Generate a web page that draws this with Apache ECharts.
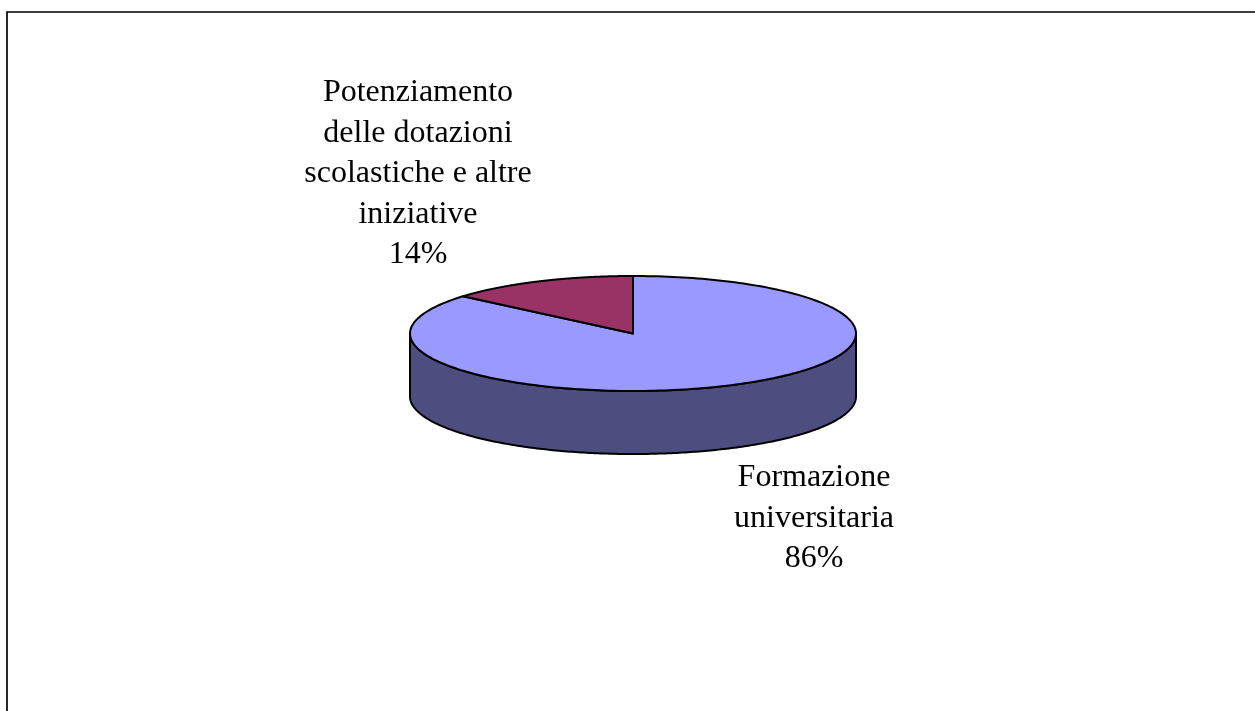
<!DOCTYPE html>
<html><head><meta charset="utf-8">
<style>html,body{margin:0;padding:0;background:#fff;overflow:hidden}#c{width:1255px;height:711px}</style>
<script src="https://cdn.jsdelivr.net/npm/echarts@6/dist/echarts.min.js"></script></head>
<body><div id="c"></div>
<script>
const categories = ["Formazione universitaria", "Potenziamento delle dotazioni scolastiche e altre iniziative"];
const values = [86.2, 13.8];
const labelLines = [["Formazione","universitaria"],["Potenziamento","delle dotazioni","scolastiche e altre","iniziative"]];
const topColors = ["#9999ff", "#993366"];
const sideColors = ["#4d4d80", "#4d1a33"];

const CX=633, CY=333.5, RX=223, RY=57.5, DEPTH=63, LW=2;
const LABEL_POS=[[814,478],[418,93]], LINE_STEP=40.5;
const total = values.reduce((a,b)=>a+b,0);
const font='"Liberation Serif","Times New Roman",serif';
function pt(a){ return [CX+RX*Math.sin(a), CY-RY*Math.cos(a)]; }
function arc(a0,a1,dy){ const p=[]; const n=240; for(let i=0;i<=n;i++){const a=a0+(a1-a0)*i/n; const q=pt(a); p.push([q[0],q[1]+(dy||0)]);} return p; }
function renderItem(params, api){
  const i = params.dataIndex;
  let start=0; for(let k=0;k<i;k++) start+=values[k];
  const v=api.value(1);
  const a0=start/total*2*Math.PI, a1=(start+v)/total*2*Math.PI;
  const children=[];
  const s0=Math.max(a0,Math.PI/2), s1=Math.min(a1,3*Math.PI/2);
  if(s1>s0){
    const top=arc(s0,s1,0), bot=arc(s0,s1,DEPTH).reverse();
    children.push({type:'polygon',shape:{points:top.concat(bot)},style:{fill:sideColors[i],stroke:'#000',lineWidth:LW,lineJoin:'round'}});
  }
  const wedge=[[CX,CY]].concat(arc(a0,a1,0));
  children.push({type:'polygon',shape:{points:wedge},style:{fill:topColors[i],stroke:'#000',lineWidth:LW,lineJoin:'round'}});
  const lines=labelLines[i].concat([Math.round(v)+'%']);
  lines.forEach((t,k)=>children.push({type:'text',x:LABEL_POS[i][0],y:LABEL_POS[i][1]+k*LINE_STEP,
    style:{text:t,font:'32px '+font,fill:'#000',align:'center',verticalAlign:'middle'}}));
  return {type:'group',children};
}
const chart = echarts.init(document.getElementById('c'),null,{renderer:'canvas'});
chart.setOption({
  animation:false,
  backgroundColor:'#fff',
  series:[{type:'custom',coordinateSystem:'none',renderItem,silent:true,
    data:categories.map((n,i)=>({name:n,value:[i,values[i]]}))}],
  graphic:{elements:[
    {type:'polyline',shape:{points:[[7,712],[7,12],[1256,12]]},style:{stroke:'#000',lineWidth:1.7,fill:null},silent:true}
  ]}
});
</script></body></html>
